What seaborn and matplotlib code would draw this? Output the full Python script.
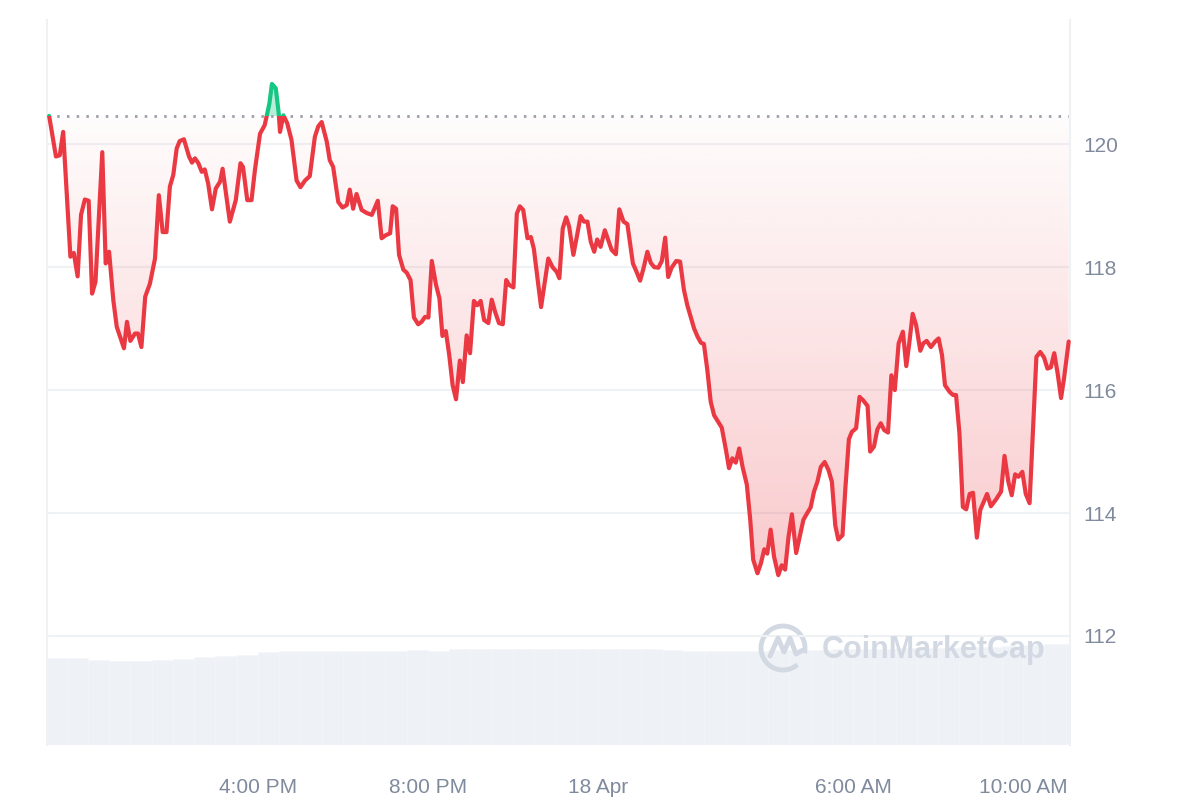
import numpy as np
import matplotlib
matplotlib.use("Agg")
import matplotlib.pyplot as plt
from matplotlib.patches import Rectangle, Arc
import seaborn as sns

# time in hours since 17 Apr 00:00, price in USD
hours = [11.09, 11.25, 11.34, 11.42, 11.59, 11.67, 11.76, 11.84, 11.93, 12.02,
         12.10, 12.18, 12.34, 12.42, 12.50, 12.60, 12.68, 12.85, 12.92, 13.00,
         13.11, 13.18, 13.26, 13.35, 13.46, 13.58, 13.67, 13.76, 13.85, 13.93,
         14.01, 14.09, 14.16, 14.26, 14.38, 14.45, 14.52, 14.60, 14.68, 14.75,
         14.83, 14.92, 15.01, 15.11, 15.17, 15.34, 15.48, 15.59, 15.65, 15.75,
         15.85, 15.93, 16.05, 16.16, 16.27, 16.33, 16.42, 16.49, 16.52, 16.60,
         16.69, 16.79, 16.91, 17.00, 17.11, 17.22, 17.34, 17.42, 17.50, 17.62,
         17.69, 17.77, 17.89, 17.99, 18.09, 18.16, 18.24, 18.32, 18.44, 18.56,
         18.68, 18.82, 18.91, 19.01, 19.11, 19.17, 19.25, 19.32, 19.42, 19.50,
         19.59, 19.67, 19.77, 19.85, 19.93, 20.01, 20.09, 20.19, 20.27, 20.34,
         20.42, 20.50, 20.58, 20.66, 20.75, 20.82, 20.91, 20.99, 21.08, 21.16,
         21.24, 21.32, 21.42, 21.50, 21.58, 21.67, 21.76, 21.84, 21.91, 22.01,
         22.09, 22.16, 22.24, 22.34, 22.42, 22.49, 22.66, 22.83, 22.93, 23.03,
         23.09, 23.17, 23.25, 23.32, 23.42, 23.50, 23.59, 23.67, 23.75, 23.83,
         23.91, 23.98, 24.06, 24.16, 24.24, 24.32, 24.42, 24.50, 24.60, 24.69,
         24.82, 24.89, 24.99, 25.07, 25.16, 25.24, 25.32, 25.42, 25.50, 25.58,
         25.65, 25.73, 25.84, 25.93, 26.02, 26.10, 26.18, 26.26, 26.34, 26.42,
         26.49, 26.57, 26.65, 26.73, 26.83, 26.91, 27.01, 27.08, 27.16, 27.24,
         27.32, 27.40, 27.50, 27.58, 27.65, 27.75, 27.83, 27.91, 27.98, 28.06,
         28.14, 28.24, 28.32, 28.40, 28.48, 28.56, 28.66, 28.75, 28.83, 28.92,
         29.00, 29.08, 29.16, 29.24, 29.33, 29.42, 29.50, 29.58, 29.65, 29.75,
         29.82, 29.90, 29.97, 30.07, 30.15, 30.24, 30.34, 30.40, 30.49, 30.57,
         30.65, 30.73, 30.82, 30.90, 30.98, 31.07, 31.17, 31.25, 31.32, 31.40,
         31.48, 31.58, 31.65, 31.73, 31.83, 31.93, 32.01, 32.09, 32.16, 32.27,
         32.35, 32.42, 32.50, 32.58, 32.66, 32.74, 32.82, 32.91, 32.99, 33.15,
         33.24, 33.36, 33.48, 33.56, 33.65, 33.73, 33.81, 33.89, 33.98, 34.06,
         34.15, 34.31, 34.40, 34.49, 34.57, 34.65, 34.73, 34.81, 34.89, 34.96,
         35.07]
price = [120.46, 119.80, 119.82, 120.20, 118.17, 118.23, 117.85, 118.85, 119.10, 119.08,
         117.57, 117.76, 119.87, 118.06, 118.25, 117.46, 117.03, 116.68, 117.11, 116.80,
         116.92, 116.92, 116.70, 117.52, 117.73, 118.14, 119.17, 118.57, 118.57, 119.31,
         119.50, 119.93, 120.05, 120.08, 119.80, 119.70, 119.77, 119.69, 119.55, 119.59,
         119.36, 118.94, 119.28, 119.39, 119.60, 118.74, 119.09, 119.69, 119.63, 119.09,
         119.09, 119.58, 120.17, 120.31, 120.66, 120.98, 120.91, 120.50, 120.20, 120.47,
         120.34, 120.07, 119.41, 119.30, 119.41, 119.48, 120.12, 120.29, 120.36, 120.04,
         119.74, 119.63, 119.06, 118.97, 119.01, 119.26, 118.95, 119.19, 118.93, 118.88,
         118.85, 119.08, 118.47, 118.52, 118.55, 118.99, 118.95, 118.20, 117.96, 117.91,
         117.79, 117.18, 117.07, 117.11, 117.19, 117.18, 118.10, 117.71, 117.49, 116.88,
         116.96, 116.57, 116.08, 115.85, 116.48, 116.13, 116.89, 116.60, 117.45, 117.38,
         117.45, 117.14, 117.09, 117.47, 117.27, 117.09, 117.07, 117.79, 117.71, 117.67,
         118.87, 118.99, 118.93, 118.47, 118.49, 118.30, 117.35, 118.14, 118.00, 117.92,
         117.82, 118.63, 118.81, 118.66, 118.20, 118.49, 118.83, 118.74, 118.74, 118.41,
         118.25, 118.45, 118.33, 118.60, 118.44, 118.28, 118.21, 118.94, 118.74, 118.70,
         118.06, 117.95, 117.78, 117.98, 118.25, 118.07, 118.00, 117.99, 118.10, 118.48,
         117.84, 117.99, 118.10, 118.09, 117.63, 117.38, 117.19, 117.00, 116.87, 116.77,
         116.75, 116.33, 115.81, 115.59, 115.48, 115.39, 115.02, 114.73, 114.89, 114.82,
         115.05, 114.75, 114.46, 113.89, 113.24, 113.02, 113.18, 113.41, 113.34, 113.73,
         113.29, 112.99, 113.15, 113.08, 113.61, 113.98, 113.35, 113.64, 113.89, 114.00,
         114.09, 114.35, 114.51, 114.75, 114.83, 114.70, 114.51, 113.80, 113.57, 113.64,
         114.43, 115.20, 115.32, 115.38, 115.89, 115.83, 115.74, 115.00, 115.08, 115.36,
         115.46, 115.35, 115.31, 116.24, 116.00, 116.76, 116.95, 116.39, 116.76, 117.24,
         117.06, 116.64, 116.76, 116.80, 116.70, 116.79, 116.84, 116.57, 116.08, 115.97,
         115.92, 115.92, 115.30, 114.10, 114.06, 114.31, 114.33, 113.60, 114.05, 114.31,
         114.11, 114.22, 114.35, 114.93, 114.51, 114.29, 114.63, 114.59, 114.67, 114.31,
         114.16, 116.54, 116.62, 116.53, 116.35, 116.37, 116.60, 116.27, 115.87, 116.19,
         116.79]

# volume per half-hour bucket (relative units)
vol_hours = [11.25, 11.75, 12.25, 12.75, 13.25, 13.75, 14.25, 14.75, 15.25, 15.75,
             16.25, 16.75, 17.25, 17.75, 18.25, 18.75, 19.25, 19.75, 20.25, 20.75,
             21.25, 21.75, 22.25, 22.75, 23.25, 23.75, 24.25, 24.75, 25.25, 25.75,
             26.25, 26.75, 27.25, 27.75, 28.25, 28.75, 29.25, 29.75, 30.25, 30.75,
             31.25, 31.75, 32.25, 32.75, 33.25, 33.75, 34.25, 34.75, 35.25]
volume = [86.7, 86.7, 85.5, 84.3, 84.3, 84.6, 86.3, 88.3, 89.5, 90.5,
          93.0, 94.3, 94.3, 94.3, 94.3, 94.3, 94.3, 95.0, 94.3, 96.0,
          96.5, 96.5, 96.5, 96.5, 96.5, 96.5, 96.5, 96.5, 96.0, 95.0,
          94.3, 94.3, 94.3, 94.5, 95.0, 95.0, 95.5, 96.0, 96.5, 96.5,
          97.0, 97.0, 97.5, 98.0, 98.0, 99.0, 100.5, 101.0, 101.0]

tick_hours = [16, 20, 24, 30, 34]
tick_labels = ['4:00 PM', '8:00 PM', '18 Apr', '6:00 AM', '10:00 AM']
price_ticks = [112, 114, 116, 118, 120]

RED = '#ea3943'
GREEN = '#16c784'
TEXT = '#808a9d'

sns.set_theme(style="white")
plt.rcParams['font.family'] = ['Liberation Sans', 'DejaVu Sans']

fig = plt.figure(figsize=(12, 8), dpi=100)
ax = fig.add_axes([0.039, 0.069, 0.853, 0.906])
ax2 = ax.twinx()

xmin, xmax = 11.035, 35.11
base = price[0]
hrs = np.array(hours)
p = np.array(price)

# volume bars in the background
ax2.bar(vol_hours, volume, width=0.5, color='#eef1f5', edgecolor='#f4f6f9', linewidth=0.4)
ax2.set_ylim(0, max(volume) * 7.2)
ax2.set_yticks([])
ax2.set_zorder(0)
ax.set_zorder(1)
ax.patch.set_visible(False)
for s in ax2.spines.values():
    s.set_visible(False)

# gradient fill between price and the opening price
poly = ax.fill_between(hrs, p, base, facecolor='none', edgecolor='none')
grad = np.zeros((256, 1, 4))
grad[:, 0, :3] = matplotlib.colors.to_rgb(RED)
grad[:, 0, 3] = np.linspace(0.27, 0.015, 256)
im = ax.imshow(grad, extent=[xmin, xmax, p.min(), base], origin='lower',
               aspect='auto', zorder=1, interpolation='bilinear')
im.set_clip_path(poly.get_paths()[0], transform=ax.transData)
ax.fill_between(hrs, p, base, where=p >= base, interpolate=True,
                color=GREEN, alpha=0.3, linewidth=0, zorder=1)

# price line: red below the opening price, green above
sns.lineplot(x=hrs, y=p, ax=ax, color=RED, linewidth=3.0, zorder=3)
red_line = ax.lines[-1]
red_line.set_solid_joinstyle('round')
red_line.set_clip_path(Rectangle((0, 90), 50, base - 90, transform=ax.transData))
sns.lineplot(x=hrs, y=p, ax=ax, color=GREEN, linewidth=3.0, zorder=3)
green_line = ax.lines[-1]
green_line.set_solid_joinstyle('round')
green_line.set_clip_path(Rectangle((0, base), 50, 20, transform=ax.transData))

ax.axhline(base, color='#9a9fa8', linewidth=2, linestyle=(0, (0.9, 2.6)), zorder=2)

ax.set_xlim(xmin, xmax)
ax.set_ylim(110.23, 122.02)
ax.yaxis.tick_right()
ax.set_yticks(price_ticks)
ax.set_yticklabels([str(t) for t in price_ticks])
ax.set_xticks(tick_hours)
ax.set_xticklabels(tick_labels)
ax.tick_params(axis='both', length=0, labelsize=15, labelcolor=TEXT)
ax.tick_params(axis='x', pad=24)
ax.tick_params(axis='y', pad=9)
ax.grid(axis='y', color='#eff2f5', linewidth=1.5)
ax.grid(axis='x', visible=False)
ax.set_axisbelow(True)
ax.set_xlabel('')
ax.set_ylabel('')
for side in ['top', 'bottom']:
    ax.spines[side].set_visible(False)
for side in ['left', 'right']:
    ax.spines[side].set_color('#eff2f5')
    ax.spines[side].set_linewidth(1.5)

# CoinMarketCap watermark
wm = '#d3d9e3'
fig.text(822 / 1200, 1 - 650 / 800, 'CoinMarketCap', fontsize=22, fontweight='bold',
         color=wm, ha='left', va='center')
fig.add_artist(Arc((783 / 1200, 1 - 648 / 800), 44 / 1200, 44 / 800, theta1=-20, theta2=300,
                   transform=fig.transFigure, color=wm, linewidth=3.5))
mx = np.array([-13, -5, 1, 7, 13, 20]) + 783
my = np.array([8, -10, 4, -10, 6, 2]) + 648
fig.add_artist(matplotlib.lines.Line2D(mx / 1200, 1 - my / 800, transform=fig.transFigure,
                                       color=wm, linewidth=3.5, solid_joinstyle='round'))

fig.savefig('out.png', dpi=100)
plt.close(fig)
